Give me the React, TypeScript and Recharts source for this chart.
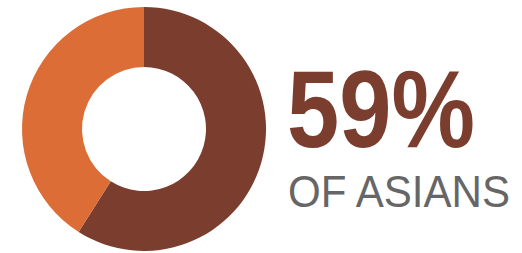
import React from "react";
import { PieChart, Pie, Cell } from "recharts";

const categories = ["Yes", "No"];
const values = [59, 41];
const colors = ["#7B3E2E", "#DC6D37"];
const headline = "59%";
const subline = "OF ASIANS";

const data = categories.map((name, i) => ({ name, value: values[i] }));

export default function App() {
  return (
    <div style={{ position: "absolute", left: 0, top: 0, width: 522, height: 253, background: "#fff" }}>
      <PieChart width={522} height={253} margin={{ top: 0, right: 0, bottom: 0, left: 0 }}>
        <Pie
          data={data}
          dataKey="value"
          cx={144}
          cy={129}
          innerRadius={62}
          outerRadius={122}
          startAngle={90}
          endAngle={-270}
          stroke="none"
          isAnimationActive={false}
        >
          {data.map((d, i) => (
            <Cell key={d.name} fill={colors[i]} />
          ))}
        </Pie>
      </PieChart>
      <svg width={522} height={253} style={{ position: "absolute", left: 0, top: 0 }}>
        <text
          x={287}
          y={147}
          fill="#7B3E2E"
          fontFamily="'Liberation Sans Narrow', 'Arial Narrow', sans-serif"
          fontWeight="bold"
          fontSize={110}
          textLength={188}
          lengthAdjust="spacingAndGlyphs"
        >
          {headline}
        </text>
        <text
          x={288}
          y={207}
          fill="#666666"
          fontFamily="'Liberation Sans Narrow', 'Arial Narrow', sans-serif"
          fontSize={44}
          textLength={222}
          lengthAdjust="spacingAndGlyphs"
        >
          {subline}
        </text>
      </svg>
    </div>
  );
}
